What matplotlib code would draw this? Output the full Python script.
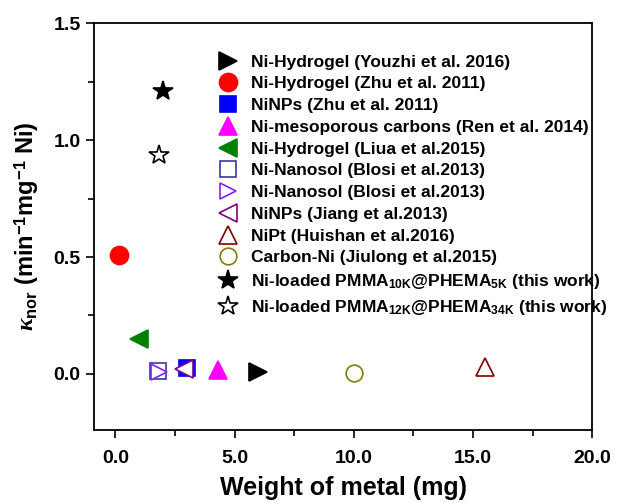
import matplotlib
matplotlib.use('Agg')
import matplotlib.pyplot as plt

plt.rcParams['font.family'] = 'Liberation Sans'
plt.rcParams['font.weight'] = 'bold'
plt.rcParams['mathtext.fontset'] = 'custom'
plt.rcParams['mathtext.rm'] = 'Liberation Sans:bold'
plt.rcParams['mathtext.bf'] = 'Liberation Sans:bold'
plt.rcParams['mathtext.it'] = 'Liberation Serif:italic'

labels = ['Ni-Hydrogel (Youzhi et al. 2016)',
          'Ni-Hydrogel (Zhu et al. 2011)',
          'NiNPs (Zhu et al. 2011)',
          'Ni-mesoporous carbons (Ren et al. 2014)',
          'Ni-Hydrogel (Liua et al.2015)',
          'Ni-Nanosol (Blosi et al.2013)',
          'Ni-Nanosol (Blosi et al.2013)',
          'NiNPs (Jiang et al.2013)',
          'NiPt (Huishan et al.2016)',
          'Carbon-Ni (Jiulong et al.2015)',
          r'Ni-loaded PMMA$_{\mathbf{10K}}$@PHEMA$_{\mathbf{5K}}$ (this work)',
          r'Ni-loaded PMMA$_{\mathbf{12K}}$@PHEMA$_{\mathbf{34K}}$ (this work)']
weight = [6.0, 0.15, 3.0, 4.3, 1.0, 1.8, 1.85, 2.9, 15.5, 10.0, 2.0, 1.85]
knor = [0.01, 0.51, 0.025, 0.015, 0.15, 0.012, 0.01, 0.02, 0.03, 0.005, 1.21, 0.935]

markers = ['>', 'o', 's', '^', '<', 's', '>', '<', '^', 'o', '*', '*']
colors = ['black', 'red', 'blue', 'magenta', 'green', '#3a3a9a', '#8020ff',
          '#800080', '#800000', '#808000', 'black', 'black']
filled = [True, True, True, True, True, False, False, False, False, False, True, False]
sizes = [13, 13, 12, 13, 13, 12, 11, 13, 13, 12, 15, 15]

fig, ax = plt.subplots(figsize=(6.3, 5.03), dpi=100)
fig.subplots_adjust(left=0.149, right=0.94, top=0.954, bottom=0.145)

for x, y, lab, m, c, f, s in zip(weight, knor, labels, markers, colors, filled, sizes):
    ax.plot([x], [y], linestyle='none', marker=m, markersize=s,
            markerfacecolor=c if f else 'white', markeredgecolor=c,
            markeredgewidth=1.2, label=lab)

ax.set_xlim(-0.9, 20)
ax.set_ylim(-0.24, 1.5)
ax.set_xticks([0, 5, 10, 15, 20])
ax.set_xticklabels(['0.0', '5.0', '10.0', '15.0', '20.0'])
ax.set_xticks([2.5, 7.5, 12.5, 17.5], minor=True)
ax.set_yticks([0.0, 0.5, 1.0, 1.5])
ax.set_yticklabels(['0.0', '0.5', '1.0', '1.5'])
ax.set_yticks([0.25, 0.75, 1.25], minor=True)
ax.tick_params(which='both', direction='out', width=1.2, labelsize=14)
ax.tick_params(axis='x', pad=8)
ax.tick_params(which='major', length=6)
ax.tick_params(which='minor', length=4)
for sp in ax.spines.values():
    sp.set_linewidth(1.3)

ax.set_xlabel('Weight of metal (mg)', fontsize=18, fontweight='bold', labelpad=7)
ax.set_ylabel(r'$\kappa_{\mathbf{nor}}$ (min$^{\mathbf{-1}}$mg$^{\mathbf{-1}}$ Ni)',
              fontsize=17, fontweight='bold', labelpad=9)

ax.legend(loc='upper left', bbox_to_anchor=(0.22, 0.94), frameon=False,
          fontsize=12.5, handletextpad=0.35, labelspacing=0.38,
          borderaxespad=0, markerscale=1.0, numpoints=1)

plt.savefig('out.png', dpi=100)
